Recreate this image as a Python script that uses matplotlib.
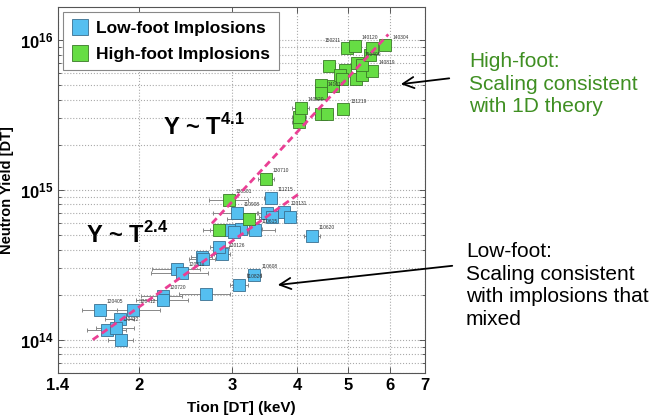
import math
import matplotlib
matplotlib.use("Agg")
import matplotlib.pyplot as plt
from matplotlib.ticker import FixedLocator, FuncFormatter, LogLocator, NullFormatter

plt.rcParams['font.family'] = ['Liberation Sans', 'DejaVu Sans']
plt.rcParams['mathtext.fontset'] = 'custom'
plt.rcParams['mathtext.rm'] = 'Liberation Sans'
plt.rcParams['mathtext.bf'] = 'Liberation Sans:bold'

# ---- data: low-foot implosions ----
low_T = [1.683, 1.943, 1.838, 1.738, 1.803, 1.843, 2.215, 2.222, 2.683, 3.10,
         3.311, 2.362, 2.408, 2.630, 2.641, 2.871, 2.841, 2.977, 3.12, 3.066,
         3.496, 3.574, 3.773, 3.873, 4.26, 3.558, 3.321, 3.025]
low_Y = [1.57e14, 1.57e14, 1.37e14, 1.157e14, 1.193e14, 1.0e14, 1.96e14, 1.84e14, 2.01e14, 2.31e14,
         2.69e14, 2.95e14, 2.78e14, 3.59e14, 3.44e14, 3.72e14, 4.18e14, 5.40e14, 5.51e14, 6.97e14,
         6.97e14, 6.63e14, 7.11e14, 6.63e14, 4.92e14, 8.87e14, 5.37e14, 5.21e14]
low_err = [0.13, 0.25, 0.12, 0.15, 0.15, 0.10, 0.20, 0.25, 0.30, 0.12,
           0.10, 0.25, 0.30, 0.12, 0.15, 0.10, 0.12, 0.25, 0.30, 0.30,
           0.15, 0.20, 0.10, 0.10, 0.15, 0.10, 0.30, 0.20]
low_labels = ['120405', '120412', '', '', '120422', '', '120720', '', '', '110826',
              '110608', '', '120316', '', '', '120126', '', '', '', '110908',
              '', '', '120131', '', '110620', '111215', '110615', '']

# ---- data: high-foot implosions ----
high_T = [3.486, 2.964, 2.841, 3.239, 4.029, 4.029, 4.059, 4.432, 4.55, 4.893,
          4.432, 4.432, 4.671, 4.602, 4.936, 4.823, 4.859, 5.173, 5.304, 5.541,
          5.202, 5.31, 5.50, 4.966, 5.151, 5.541, 5.884]
high_Y = [1.188e15, 8.55e14, 5.37e14, 6.36e14, 2.83e15, 3.08e15, 3.53e15, 3.19e15, 3.19e15, 3.44e15,
          4.97e15, 4.45e15, 4.92e15, 6.66e15, 6.29e15, 5.83e15, 5.51e15, 5.50e15, 5.84e15, 6.21e15,
          7.05e15, 6.76e15, 7.92e15, 8.78e15, 9.15e15, 8.87e15, 9.19e15]
high_err = [0.12, 0.25, 0.20, 0.30, 0.12, 0.12, 0.15, 0.12, 0.12, 0.10,
            0.12, 0.12, 0.12, 0.12, 0.10, 0.10, 0.10, 0.12, 0.12, 0.12,
            0.12, 0.12, 0.12, 0.12, 0.12, 0.12, 0.12]
high_labels = ['130710', '130501', '', '', '', '', '140520', '', '', '131219',
               '', '141016', '', '', '', '', '', '', '', '140819',
               '150409', '', '', '150211', '140120', '', '140304']

# ---- fits ----
fit_low_T = [1.63, 4.06]
fit_low_Y = [1.0e14, 9.6e14]
fit_high_T = [2.75, 5.96]
fit_high_Y = [5.98e14, 1.09e16]

x_ticks = [1.4, 2, 3, 4, 5, 6, 7]
x_ticklabels = ['1.4', '2', '3', '4', '5', '6', '7']

blue = '#55bff0'
green = '#66dd44'
pink = '#ea3f94'

fig = plt.figure(figsize=(6.54, 4.16), dpi=100)
ax = fig.add_axes([58/654, 1-373/416, (425-58)/654, (373-7)/416])
ax.set_xscale('log')
ax.set_yscale('log')
ax.set_xlim(1.4, 7)
ax.set_ylim(6.0e13, 1.66e16)

ax.xaxis.set_major_locator(FixedLocator(x_ticks))
ax.xaxis.set_minor_locator(FixedLocator([]))
ax.xaxis.set_major_formatter(FuncFormatter(lambda v, p: x_ticklabels[x_ticks.index(v)] if v in x_ticks else ''))
ax.xaxis.set_minor_formatter(NullFormatter())
ax.yaxis.set_major_locator(LogLocator(base=10))
ax.yaxis.set_minor_locator(LogLocator(base=10, subs=range(2, 10)))
ax.yaxis.set_major_formatter(FuncFormatter(lambda v, p: r'$\mathbf{10^{%d}}$' % round(math.log10(v))))
ax.yaxis.set_minor_formatter(NullFormatter())

ax.grid(True, which='both', linestyle=':', color='#aaaaaa', linewidth=0.8)
ax.set_axisbelow(True)
ax.tick_params(which='both', direction='in', top=True, right=True, labelsize=12, length=4, width=0.6, color='#444444')
ax.tick_params(which='minor', length=2)
for lab in ax.get_xticklabels():
    lab.set_fontweight('bold')
for s in ax.spines.values():
    s.set_color('#555555')
    s.set_linewidth(0.8)

# error bars
ax.errorbar(low_T, low_Y, xerr=low_err, fmt='none', ecolor='#888888', elinewidth=0.7, capsize=1.5, capthick=0.7, zorder=2)
ax.errorbar(high_T, high_Y, xerr=high_err, fmt='none', ecolor='#888888', elinewidth=0.7, capsize=1.5, capthick=0.7, zorder=2)

ax.plot(low_T, low_Y, 's', color=blue, markeredgecolor='#3a6f90', markeredgewidth=0.6, markersize=8,
        linestyle='none', label='Low-foot Implosions', zorder=3)
ax.plot(high_T, high_Y, 's', color=green, markeredgecolor='#3a7a28', markeredgewidth=0.6, markersize=8,
        linestyle='none', label='High-foot Implosions', zorder=3)

for t, y, s in zip(low_T, low_Y, low_labels):
    if s:
        ax.annotate(s, (t, y), xytext=(5, 5), textcoords='offset points', fontsize=3.5, color='#333333', zorder=4)
for t, y, s in zip(high_T, high_Y, high_labels):
    if s:
        off = (-16, 5) if s == '150211' else (5, 5)
        ax.annotate(s, (t, y), xytext=off, textcoords='offset points', fontsize=3.5, color='#333333', zorder=4)

ax.plot(fit_low_T, fit_low_Y, color=pink, linewidth=2.0, linestyle=(0, (2.5, 1.5)), zorder=5)
ax.plot(fit_high_T, fit_high_Y, color=pink, linewidth=2.0, linestyle=(0, (2.5, 1.5)), zorder=5)

ax.text(0.398, 0.672, r'Y ~ T$^{\mathbf{4.1}}$', transform=ax.transAxes, fontsize=17, fontweight='bold', va='center', ha='center')
ax.text(0.188, 0.377, r'Y ~ T$^{\mathbf{2.4}}$', transform=ax.transAxes, fontsize=17, fontweight='bold', va='center', ha='center')

leg = ax.legend(loc='upper left', bbox_to_anchor=(0.0, 1.0), prop={'weight': 'bold', 'size': 12.5},
                handlelength=0.9, handletextpad=0.5, borderpad=0.5, labelspacing=0.6, borderaxespad=0.3,
                markerscale=1.4, fancybox=False, framealpha=1)
leg.get_frame().set_edgecolor('#888888')
leg.get_frame().set_linewidth(0.8)

ax.set_xlabel('Tion [DT] (keV)', fontsize=11, fontweight='bold', labelpad=6)
ax.set_ylabel('Neutron Yield [DT]', fontsize=10.5, fontweight='bold', labelpad=4)

# annotations
ax.annotate('', xy=(6.22, 5.05e15), xycoords='data', xytext=(452/654, 1-78/416), textcoords='figure fraction',
            arrowprops=dict(arrowstyle='->', lw=1.3, color='black', mutation_scale=20), annotation_clip=False)
ax.annotate('', xy=(3.626, 2.31e14), xycoords='data', xytext=(455/654, 1-265.5/416), textcoords='figure fraction',
            arrowprops=dict(arrowstyle='->', lw=1.3, color='black', mutation_scale=20), annotation_clip=False)

fig.text(469/654, 1-52/416, 'High-foot:\nScaling consistent\nwith 1D theory', color='#3f8f22', fontsize=15,
         va='top', ha='left', linespacing=1.25)
fig.text(466/654, 1-242/416, 'Low-foot:\nScaling consistent\nwith implosions that\nmixed', color='black', fontsize=15,
         va='top', ha='left', linespacing=1.25)

fig.savefig('out.png', dpi=100)
